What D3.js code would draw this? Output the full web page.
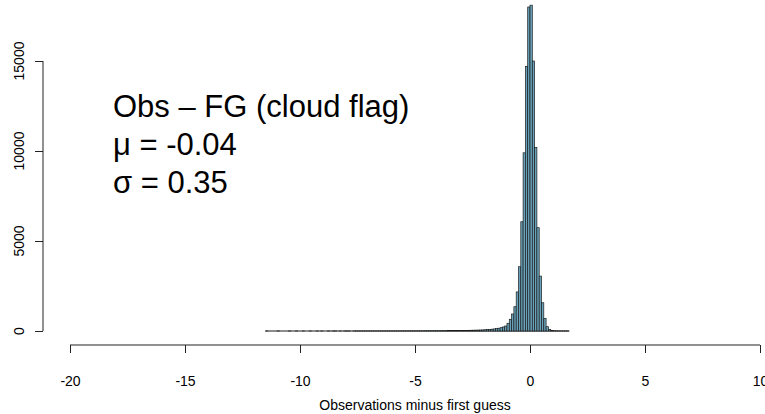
<!DOCTYPE html>
<html>
<head>
<meta charset="utf-8">
<script src="https://cdn.jsdelivr.net/npm/d3@7/dist/d3.min.js"></script>
<style>
  html, body { margin: 0; padding: 0; background: #fff; }
  svg { display: block; font-family: "Liberation Sans", Arial, Helvetica, sans-serif; }
</style>
</head>
<body>
<svg id="chart" width="765" height="414"></svg>
<script>
// ---- data ----
const binStart = -11.5;   // left edge of first bin
const binWidth = 0.1;     // histogram bin width
// counts per bin, left to right, from -11.5 to 1.7
const tailFar = [1,0,0,0,0,1,0,0,0,0,1,0,0,1,0,
                 0,1,0,0,1,0,0,1,0,1,0,0,1,0,1,1,0,1,0,1,
                 1,1,0,1,2,1,1,2,1,2,2,1,2,3,2,2,3,3,2,4,
                 3,4,3,4,5,5,4,6,6,7];
const tailNear = [7,8,8,9,10,11,11,12,13,14,
                  15,16,17,19,20,22,23,25,27,29,
                  31,33,36,38,41,44,47,51,55,60,
                  70,78,88,100,115,132,155,185,225,280];
const core = [430,650,944,1350,2170,3570,6070,9900,14700,18000,
              18100,15000,10200,5740,3050,1570,700,240,90,30];
const rightTail = [14,8,5,3,2,1,1];
const counts = tailFar.concat(tailNear, core, rightTail);

const xTicks = [-20,-15,-10,-5,0,5,10];
const yTicks = [0,5000,10000,15000];
const xLabel = "Observations minus first guess";
const annotation = ["Obs \u2013 FG (cloud flag)", "\u03bc = -0.04", "\u03c3 = 0.35"];

// ---- drawing ----
const svg = d3.select("#chart");
const x = d3.scaleLinear().domain([-20, 10]).range([70, 760]);
const y = d3.scaleLinear().domain([0, 15000]).range([331, 61]);

const bins = counts.map((c, i) => ({ x0: binStart + i * binWidth, x1: binStart + (i + 1) * binWidth, c }));

// baseline under zero-height bins (as R draws them)
svg.append("line")
  .attr("x1", x(bins[0].x0)).attr("x2", x(bins[bins.length - 1].x1))
  .attr("y1", y(0)).attr("y2", y(0))
  .attr("stroke", "#1b1b1b").attr("stroke-width", 1);

svg.append("g").selectAll("rect").data(bins.filter(d => d.c > 0)).join("rect")
  .attr("x", d => x(d.x0))
  .attr("width", d => x(d.x1) - x(d.x0))
  .attr("y", d => y(d.c))
  .attr("height", d => y(0) - y(d.c))
  .attr("fill", "#68a3bb")
  .attr("stroke", "#1b1b1b")
  .attr("stroke-width", 0.7);

const fmt = d => String(d);

// x axis
const xAxis = d3.axisBottom(x).tickValues(xTicks).tickFormat(fmt).tickSize(8).tickSizeOuter(0).tickPadding(23);
const gx = svg.append("g").attr("transform", "translate(0,345)").call(xAxis);
gx.attr("font-family", null);
gx.select(".domain").attr("stroke", "#222").attr("d", `M${x(-20)},0H${x(10)}`);
gx.selectAll(".tick line").attr("stroke", "#222");
gx.selectAll("text").attr("font-size", 14).attr("fill", "#000");

// y axis
const yAxis = d3.axisLeft(y).tickValues(yTicks).tickFormat(fmt).tickSize(8).tickSizeOuter(0);
const gy = svg.append("g").attr("transform", "translate(43,0)").call(yAxis);
gy.attr("font-family", null);
gy.select(".domain").attr("stroke", "#222").attr("d", `M0,${y(0)}V${y(15000)}`);
gy.selectAll(".tick line").attr("stroke", "#222");
gy.selectAll("text").remove();
svg.append("g").selectAll("text").data(yTicks).join("text")
  .attr("transform", d => `translate(24,${y(d)}) rotate(-90)`)
  .attr("text-anchor", "middle")
  .attr("font-size", 14).attr("fill", "#000")
  .text(fmt);

// x label
svg.append("text").attr("x", 415).attr("y", 410).attr("text-anchor", "middle")
  .attr("font-size", 14).text(xLabel);

// annotation
svg.append("g").selectAll("text").data(annotation).join("text")
  .attr("x", 113).attr("y", (d, i) => 117 + i * 38)
  .attr("font-size", 31).attr("fill", "#000").text(d => d);
</script>
</body>
</html>
